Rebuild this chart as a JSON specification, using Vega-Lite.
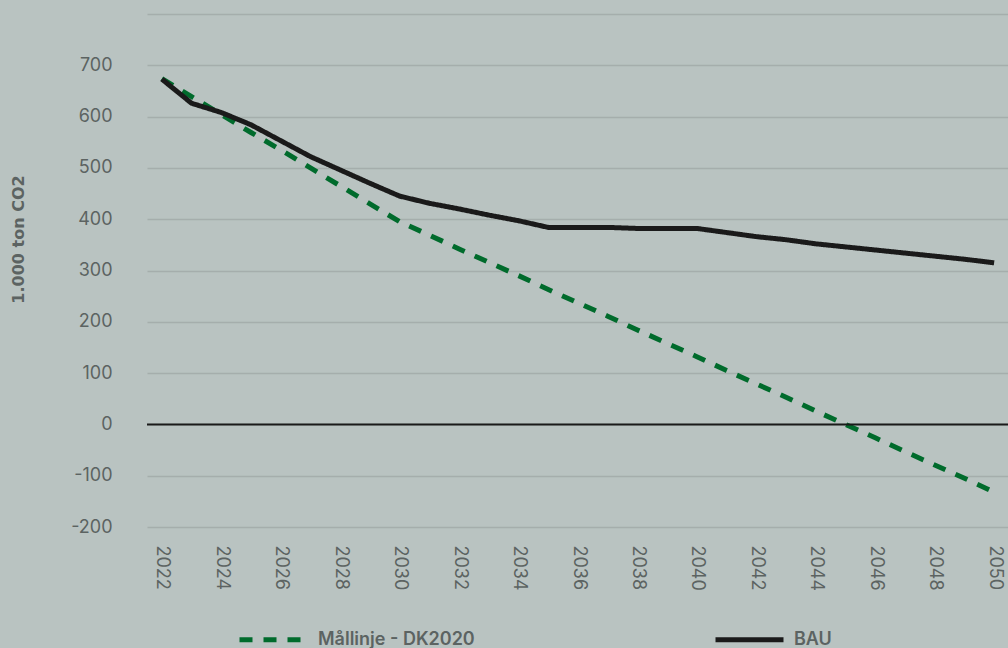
{
  "$schema": "https://vega.github.io/schema/vega-lite/v6.json",
  "width": 862,
  "height": 513,
  "autosize": {"type": "none"},
  "padding": {"left": 147, "top": 14, "right": 0, "bottom": 121},
  "background": "#b9c3c1",
  "config": {
    "view": {"stroke": null},
    "font": "Inter",
    "axis": {"labelFont": "Inter", "labelColor": "#5c6362", "titleColor": "#5c6362"},
    "legend": {
      "orient": "none",
      "direction": "horizontal",
      "legendX": 90,
      "legendY": 589,
      "columnPadding": 230,
      "symbolType": "stroke",
      "symbolSize": 4624,
      "symbolStrokeWidth": 5,
      "labelFont": "Inter",
      "labelFontSize": 18,
      "labelFontWeight": 600,
      "labelColor": "#5c6362",
      "labelOffset": 8,
      "title": null
    }
  },
  "datasets": {
    "main": [
      {"year": 2022, "series": "Mållinje - DK2020", "value": 674},
      {"year": 2023, "series": "Mållinje - DK2020", "value": 639},
      {"year": 2024, "series": "Mållinje - DK2020", "value": 604},
      {"year": 2025, "series": "Mållinje - DK2020", "value": 569},
      {"year": 2026, "series": "Mållinje - DK2020", "value": 535},
      {"year": 2027, "series": "Mållinje - DK2020", "value": 500},
      {"year": 2028, "series": "Mållinje - DK2020", "value": 465},
      {"year": 2029, "series": "Mållinje - DK2020", "value": 430},
      {"year": 2030, "series": "Mållinje - DK2020", "value": 395},
      {"year": 2031, "series": "Mållinje - DK2020", "value": 369},
      {"year": 2032, "series": "Mållinje - DK2020", "value": 342},
      {"year": 2033, "series": "Mållinje - DK2020", "value": 316},
      {"year": 2034, "series": "Mållinje - DK2020", "value": 290},
      {"year": 2035, "series": "Mållinje - DK2020", "value": 263},
      {"year": 2036, "series": "Mållinje - DK2020", "value": 237},
      {"year": 2037, "series": "Mållinje - DK2020", "value": 211},
      {"year": 2038, "series": "Mållinje - DK2020", "value": 184},
      {"year": 2039, "series": "Mållinje - DK2020", "value": 158},
      {"year": 2040, "series": "Mållinje - DK2020", "value": 132},
      {"year": 2041, "series": "Mållinje - DK2020", "value": 105},
      {"year": 2042, "series": "Mållinje - DK2020", "value": 79},
      {"year": 2043, "series": "Mållinje - DK2020", "value": 53},
      {"year": 2044, "series": "Mållinje - DK2020", "value": 26},
      {"year": 2045, "series": "Mållinje - DK2020", "value": 0},
      {"year": 2046, "series": "Mållinje - DK2020", "value": -26},
      {"year": 2047, "series": "Mållinje - DK2020", "value": -53},
      {"year": 2048, "series": "Mållinje - DK2020", "value": -79},
      {"year": 2049, "series": "Mållinje - DK2020", "value": -105},
      {"year": 2050, "series": "Mållinje - DK2020", "value": -132},
      {"year": 2022, "series": "BAU", "value": 673},
      {"year": 2023, "series": "BAU", "value": 626},
      {"year": 2024, "series": "BAU", "value": 608},
      {"year": 2025, "series": "BAU", "value": 584},
      {"year": 2026, "series": "BAU", "value": 553},
      {"year": 2027, "series": "BAU", "value": 522},
      {"year": 2028, "series": "BAU", "value": 496},
      {"year": 2029, "series": "BAU", "value": 470},
      {"year": 2030, "series": "BAU", "value": 445},
      {"year": 2031, "series": "BAU", "value": 431},
      {"year": 2032, "series": "BAU", "value": 420},
      {"year": 2033, "series": "BAU", "value": 408},
      {"year": 2034, "series": "BAU", "value": 397},
      {"year": 2035, "series": "BAU", "value": 384},
      {"year": 2036, "series": "BAU", "value": 384},
      {"year": 2037, "series": "BAU", "value": 384},
      {"year": 2038, "series": "BAU", "value": 382},
      {"year": 2039, "series": "BAU", "value": 382},
      {"year": 2040, "series": "BAU", "value": 382},
      {"year": 2041, "series": "BAU", "value": 374},
      {"year": 2042, "series": "BAU", "value": 366},
      {"year": 2043, "series": "BAU", "value": 360},
      {"year": 2044, "series": "BAU", "value": 352},
      {"year": 2045, "series": "BAU", "value": 346},
      {"year": 2046, "series": "BAU", "value": 340},
      {"year": 2047, "series": "BAU", "value": 334},
      {"year": 2048, "series": "BAU", "value": 328},
      {"year": 2049, "series": "BAU", "value": 322},
      {"year": 2050, "series": "BAU", "value": 315}
    ],
    "zero": [{"z": 0}]
  },
  "layer": [
    {
      "data": {"name": "main"},
      "mark": {"type": "line", "strokeWidth": 5, "strokeCap": "butt", "strokeJoin": "miter"},
      "encoding": {
        "x": {
          "field": "year",
          "type": "ordinal",
          "scale": {"type": "point", "padding": 0.5},
          "axis": {
            "title": null,
            "values": [2022, 2024, 2026, 2028, 2030, 2032, 2034, 2036, 2038, 2040, 2042, 2044, 2046, 2048, 2050],
            "labelAngle": 90,
            "labelFontSize": 18,
            "labelPadding": 18,
            "ticks": false,
            "tickSize": 0,
            "domain": false,
            "grid": false
          }
        },
        "y": {
          "field": "value",
          "type": "quantitative",
          "scale": {"domain": [-200, 800], "nice": false, "zero": false},
          "axis": {
            "title": "1.000 ton CO2",
            "titleFont": "DejaVu Sans",
            "titleFontSize": 16,
            "titleFontWeight": "bold",
            "titleAngle": -90,
            "titleX": -129,
            "titleY": 225,
            "titleAlign": "center",
            "titleBaseline": "middle",
            "values": [-200, -100, 0, 100, 200, 300, 400, 500, 600, 700, 800],
            "labelExpr": "datum.value == 800 ? '' : replace(datum.label, '\u2212', '-')",
            "labelFontSize": 18,
            "labelPadding": 35,
            "ticks": false,
            "tickSize": 0,
            "domain": false,
            "grid": true,
            "gridColor": "#a5aeac",
            "gridWidth": 1.4
          }
        },
        "color": {
          "field": "series",
          "type": "nominal",
          "scale": {"domain": ["Mållinje - DK2020", "BAU"], "range": ["#006b2c", "#1a1a1a"]},
          "legend": {"title": null}
        },
        "strokeDash": {
          "field": "series",
          "type": "nominal",
          "scale": {"domain": ["Mållinje - DK2020", "BAU"], "range": [[13, 11], [1, 0]]},
          "legend": {"title": null}
        }
      }
    },
    {
      "data": {"name": "zero"},
      "mark": {"type": "rule", "color": "#1a1a1a", "strokeWidth": 2},
      "encoding": {"y": {"field": "z", "type": "quantitative"}}
    }
  ]
}
